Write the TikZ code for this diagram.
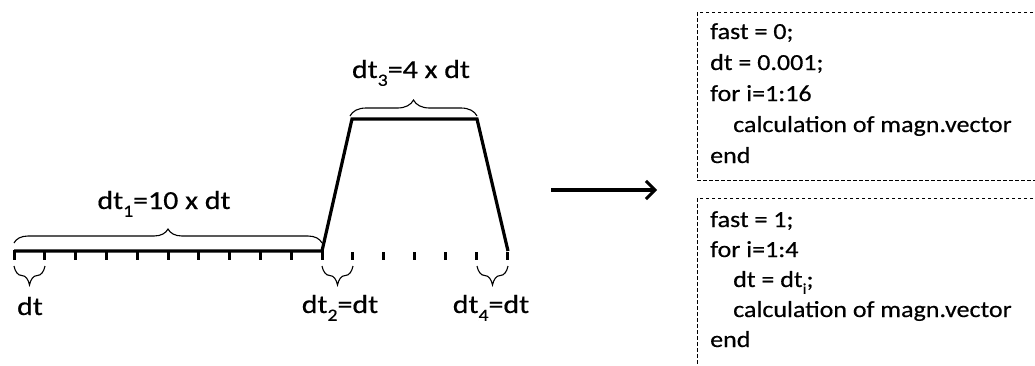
\documentclass[tikz,border=0pt]{standalone}
\usepackage{fontspec}
\usepackage{graphicx}
\setmainfont{Carlito}[FakeBold=0.4]
\usetikzlibrary{decorations.pathreplacing,arrows.meta}
\newcommand{\lblstretch}[1]{\scalebox{1.15}[1]{#1}}
\newcommand{\boxstretch}[1]{\scalebox{1.13}[1]{#1}}
\newcommand{\lowsub}[1]{\raisebox{-0.3em}{\scalebox{0.66}{#1}}}
\begin{document}
\begin{tikzpicture}[x=1pt,y=-1pt,
  profile/.style={line width=3.2pt,line join=miter},
  tickmark/.style={line width=3pt},
  bracemark/.style={decorate,line width=1.1pt},
  lbl/.style={anchor=base,inner sep=0pt,font=\fontsize{26}{30}\selectfont},
  codeline/.style={anchor=base west,inner sep=0pt,font=\fontsize{23}{27}\selectfont},
  codebox/.style={draw,line width=1pt,dash pattern=on 3.5pt off 2.5pt},
  bigarrow/.style={line width=3.8pt,-{Straight Barb[length=9pt,width=18pt,line width=3pt]}}]
\useasboundingbox (0,0) rectangle (1035,365);
\clip (0,0) rectangle (1035,365);
% profile
\coordinate (p0) at (14,251);
\coordinate (p1) at (322,251);
\coordinate (p2) at (352,119);
\coordinate (p3) at (477,119);
\coordinate (p4) at (508,251);
\draw[profile] (p0) -- (p1) -- (p2) -- (p3) -- (p4);
% ticks
\foreach \k in {0,...,10}{
  \draw[tickmark] ({14+30.8*\k},250) -- ({14+30.8*\k},260);
}
\foreach \k in {1,...,6}{
  \draw[tickmark] ({322+30.9*\k},252) -- ({322+30.9*\k},260);
}
% braces
\coordinate (b1a) at (14,243);
\coordinate (b1b) at (322,243);
\draw[bracemark,decoration={brace,amplitude=14pt}] (b1a) -- (b1b);
\coordinate (b2a) at (350,116);
\coordinate (b2b) at (477,116);
\draw[bracemark,decoration={brace,amplitude=16pt}] (b2a) -- (b2b);
\coordinate (b3a) at (14,266);
\coordinate (b3b) at (45,266);
\draw[bracemark,decoration={brace,mirror,amplitude=19pt}] (b3a) -- (b3b);
\coordinate (b4a) at (322,266);
\coordinate (b4b) at (353,266);
\draw[bracemark,decoration={brace,mirror,amplitude=19pt}] (b4a) -- (b4b);
\coordinate (b5a) at (477,266);
\coordinate (b5b) at (508,266);
\draw[bracemark,decoration={brace,mirror,amplitude=19pt}] (b5a) -- (b5b);
% labels
\node[lbl] (t1) at (164,209) {\lblstretch{dt\lowsub{1}=10 x dt}};
\node[lbl] (t3) at (411,78) {\lblstretch{dt\lowsub{3}=4 x dt}};
\node[lbl] (t0) at (30,315) {\lblstretch{dt}};
\node[lbl] (t2) at (340,313) {\lblstretch{dt\lowsub{2}=dt}};
\node[lbl] (t4) at (491,313) {\lblstretch{dt\lowsub{4}=dt}};
% arrow
\coordinate (a0) at (551,190);
\coordinate (a1) at (657,190);
\draw[bigarrow] (a0) -- (a1);
% code boxes
\draw[codebox] (697,12) rectangle (1045,180);
\draw[codebox] (697,198) rectangle (1045,375);
\node[codeline] (c1) at (710,39) {\boxstretch{fast = 0;}};
\node[codeline] (c2) at (710,70) {\boxstretch{dt = 0.001;}};
\node[codeline] (c3) at (710,101) {\boxstretch{for i=1:16}};
\node[codeline] (c4) at (733,132) {\boxstretch{calculation of magn.vector}};
\node[codeline] (c5) at (710,163) {\boxstretch{end}};
\node[codeline] (d1) at (710,227) {\boxstretch{fast = 1;}};
\node[codeline] (d2) at (710,257) {\boxstretch{for i=1:4}};
\node[codeline] (d3) at (733,287) {\boxstretch{dt = dt\lowsub{i};}};
\node[codeline] (d4) at (733,317) {\boxstretch{calculation of magn.vector}};
\node[codeline] (d5) at (710,347) {\boxstretch{end}};
\end{tikzpicture}
\end{document}
